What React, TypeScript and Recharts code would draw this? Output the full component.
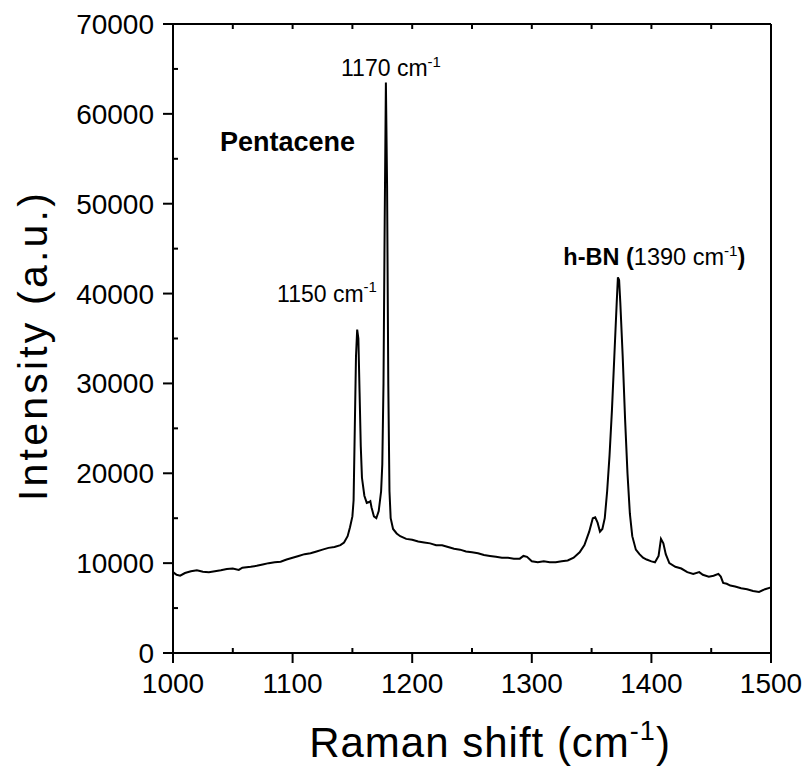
import React from 'react';
import {
  LineChart,
  Line,
  XAxis,
  YAxis,
  ReferenceDot,
  Label,
} from 'recharts';

// Raman shift (cm-1) and intensity
const ramanShift = [
  1000, 1003, 1006, 1010, 1015, 1020, 1025, 1030, 1035, 1040, 1045, 1050, 1055, 1058, 1065, 1070,
  1075, 1080, 1085, 1090, 1095, 1100, 1105, 1110, 1115, 1120, 1125, 1130, 1135, 1140, 1143, 1146,
  1148, 1150, 1151, 1152, 1153, 1154, 1155, 1156, 1157, 1158, 1160, 1162, 1164, 1165, 1166, 1168,
  1170, 1172, 1174, 1175, 1176, 1177, 1178, 1179, 1180, 1181, 1182, 1184, 1187, 1190, 1195, 1200,
  1205, 1210, 1215, 1220, 1225, 1230, 1235, 1240, 1245, 1250, 1255, 1260, 1265, 1270, 1275, 1280,
  1285, 1290, 1293, 1296, 1300, 1305, 1310, 1315, 1320, 1325, 1330, 1335, 1340, 1344, 1348, 1351,
  1353, 1355, 1357, 1359, 1361, 1363, 1365, 1367, 1369, 1371, 1372, 1373, 1374, 1376, 1378, 1380,
  1382, 1384, 1387, 1390, 1393, 1396, 1400, 1403, 1406, 1408, 1410, 1412, 1415, 1420, 1425, 1430,
  1435, 1440, 1443, 1448, 1452, 1456, 1458, 1460, 1463, 1466, 1470, 1475, 1480, 1485, 1490, 1495,
  1500,
];

const intensity = [
  9000, 8700, 8600, 8900, 9100, 9200, 9050, 9000, 9100, 9200, 9350, 9400, 9250, 9500, 9600, 9700,
  9850, 10000, 10100, 10150, 10400, 10600, 10800, 11000, 11100, 11300, 11500, 11700, 11800, 12000, 12300, 13000,
  14000, 15200, 17000, 25000, 33000, 36000, 35000, 29000, 23000, 19500, 17500, 16700, 16800, 16900, 16200, 15200,
  15000, 15800, 18000, 21000, 30000, 48000, 63500, 52000, 30000, 18000, 15000, 13800, 13300, 13000, 12700, 12600,
  12400, 12300, 12200, 12000, 12000, 11800, 11600, 11500, 11300, 11200, 11100, 10900, 10800, 10700, 10600, 10600,
  10500, 10500, 10800, 10700, 10200, 10100, 10200, 10100, 10100, 10200, 10300, 10600, 11200, 12000, 13500, 15000,
  15100, 14500, 13500, 13800, 15000, 18000, 22000, 27000, 33000, 39000, 41800, 41500, 39000, 33000, 26000, 20000,
  15500, 13000, 11500, 11000, 10600, 10400, 10200, 10100, 10800, 12700, 12200, 11000, 10000, 9600, 9400, 9000,
  8800, 9000, 8700, 8500, 8600, 8800, 8500, 7800, 7700, 7500, 7400, 7200, 7100, 6900, 6800, 7100,
  7300,
];

const xMajorTicks = [1000, 1100, 1200, 1300, 1400, 1500];
const xMinorTicks = [1050, 1150, 1250, 1350, 1450];
const yMajorTicks = [0, 10000, 20000, 30000, 40000, 50000, 60000, 70000];
const yMinorTicks = [5000, 15000, 25000, 35000, 45000, 55000, 65000];

const data = ramanShift.map((x, i) => ({ x, y: intensity[i] }));
const xTicks = [...xMajorTicks, ...xMinorTicks].sort((a, b) => a - b);
const yTicks = [...yMajorTicks, ...yMinorTicks].sort((a, b) => a - b);

const FONT = '"Liberation Sans", Arial, sans-serif';
const INK = '#000';
const AXIS_W = 2;

const BottomTick = ({ x, y, payload }: any) => {
  const major = xMajorTicks.includes(payload.value);
  return (
    <g>
      <line x1={x} x2={x} y1={y} y2={major ? y + 10 : y - 5} stroke={INK} strokeWidth={AXIS_W} />
      {major && (
        <text x={x} y={y + 40} textAnchor="middle" fontSize={28} fontFamily={FONT} fill={INK}>
          {payload.value}
        </text>
      )}
    </g>
  );
};

const LeftTick = ({ x, y, payload }: any) => {
  const major = yMajorTicks.includes(payload.value);
  return (
    <g>
      <line x1={x} x2={major ? x - 10 : x + 5} y1={y} y2={y} stroke={INK} strokeWidth={AXIS_W} />
      {major && (
        <text x={x - 19} y={y + 10} textAnchor="end" fontSize={28} fontFamily={FONT} fill={INK}>
          {payload.value}
        </text>
      )}
    </g>
  );
};

const TopTick = ({ x, y }: any) => (
  <line x1={x} x2={x} y1={y} y2={y + 5} stroke={INK} strokeWidth={AXIS_W} />
);

const RightTick = ({ x, y }: any) => (
  <line x1={x} x2={x - 5} y1={y} y2={y} stroke={INK} strokeWidth={AXIS_W} />
);

// annotation text with an optional "cm-1" style superscript
const peakLabel = (pre: string, sup: string, post: string, size: number, bold: boolean, boldPre = '') =>
  (props: any) => {
    const { x, y } = props.viewBox;
    return (
      <text x={x} y={y} fontSize={size} fontFamily={FONT} fill={INK}>
        {boldPre && <tspan fontWeight="bold">{boldPre}</tspan>}
        <tspan fontWeight={bold ? 'bold' : 'normal'}>{pre}</tspan>
        {sup && (
          <tspan dy={-size * 0.4} fontSize={size * 0.65}>
            {sup}
          </tspan>
        )}
        {post && (
          <tspan dy={size * 0.4} fontWeight="bold">
            {post}
          </tspan>
        )}
      </text>
    );
  };

export default function App() {
  return (
    <div style={{ position: 'absolute', left: 0, top: 0, background: '#fff' }}>
      <LineChart
        width={808}
        height={774}
        data={data}
        margin={{ top: 0, right: 0, bottom: 0, left: 0 }}
      >
        <XAxis
          xAxisId="bottom"
          dataKey="x"
          type="number"
          domain={[1000, 1500]}
          ticks={xTicks}
          interval={0}
          height={121}
          tickSize={0}
          tickMargin={0}
          tickLine={false}
          axisLine={{ stroke: INK, strokeWidth: AXIS_W }}
          tick={<BottomTick />}
        >
          <Label
            content={(props: any) => {
              const { x, y, width } = props.viewBox;
              return (
                <text
                  x={x + width / 2 + 18}
                  y={y + 104}
                  textAnchor="middle"
                  fontSize={42}
                  letterSpacing={1}
                  fontFamily={FONT}
                  fill={INK}
                >
                  Raman shift (cm
                  <tspan dy={-17} fontSize={27}>-1</tspan>
                  <tspan dy={17}>)</tspan>
                </text>
              );
            }}
          />
        </XAxis>
        <XAxis
          xAxisId="top"
          orientation="top"
          dataKey="x"
          type="number"
          domain={[1000, 1500]}
          ticks={xTicks}
          interval={0}
          height={24}
          tickSize={0}
          tickMargin={0}
          tickLine={false}
          axisLine={{ stroke: INK, strokeWidth: AXIS_W }}
          tick={<TopTick />}
        />
        <YAxis
          yAxisId="left"
          type="number"
          domain={[0, 70000]}
          ticks={yTicks}
          interval={0}
          width={173}
          tickSize={0}
          tickMargin={0}
          tickLine={false}
          axisLine={{ stroke: INK, strokeWidth: AXIS_W }}
          tick={<LeftTick />}
        >
          <Label
            content={(props: any) => {
              const { y, height } = props.viewBox;
              const cy = y + height / 2 + 7;
              return (
                <text
                  x={47}
                  y={cy}
                  transform={`rotate(-90 47 ${cy})`}
                  textAnchor="middle"
                  fontSize={41}
                  letterSpacing={3.2}
                  fontFamily={FONT}
                  fill={INK}
                >
                  Intensity (a.u.)
                </text>
              );
            }}
          />
        </YAxis>
        <YAxis
          yAxisId="right"
          orientation="right"
          type="number"
          domain={[0, 70000]}
          ticks={yTicks}
          interval={0}
          width={37}
          tickSize={0}
          tickMargin={0}
          tickLine={false}
          axisLine={{ stroke: INK, strokeWidth: AXIS_W }}
          tick={<RightTick />}
        />
        <Line
          xAxisId="bottom"
          yAxisId="left"
          type="linear"
          dataKey="y"
          stroke={INK}
          strokeWidth={2}
          dot={false}
          isAnimationActive={false}
        />
        <ReferenceDot
          xAxisId="bottom"
          yAxisId="left"
          x={1039.3}
          y={55860}
          r={0}
          stroke="none"
          ifOverflow="visible"
          label={{ content: peakLabel('Pentacene', '', '', 27, true) }}
        />
        <ReferenceDot
          xAxisId="bottom"
          yAxisId="left"
          x={1140.5}
          y={64200}
          r={0}
          stroke="none"
          ifOverflow="visible"
          label={{ content: peakLabel('1170 cm', '-1', '', 23, false) }}
        />
        <ReferenceDot
          xAxisId="bottom"
          yAxisId="left"
          x={1087}
          y={39100}
          r={0}
          stroke="none"
          ifOverflow="visible"
          label={{ content: peakLabel('1150 cm', '-1', '', 23, false) }}
        />
        <ReferenceDot
          xAxisId="bottom"
          yAxisId="left"
          x={1326.4}
          y={43180}
          r={0}
          stroke="none"
          ifOverflow="visible"
          label={{ content: peakLabel('1390 cm', '-1', ')', 23.5, false, 'h-BN (') }}
        />
      </LineChart>
    </div>
  );
}
